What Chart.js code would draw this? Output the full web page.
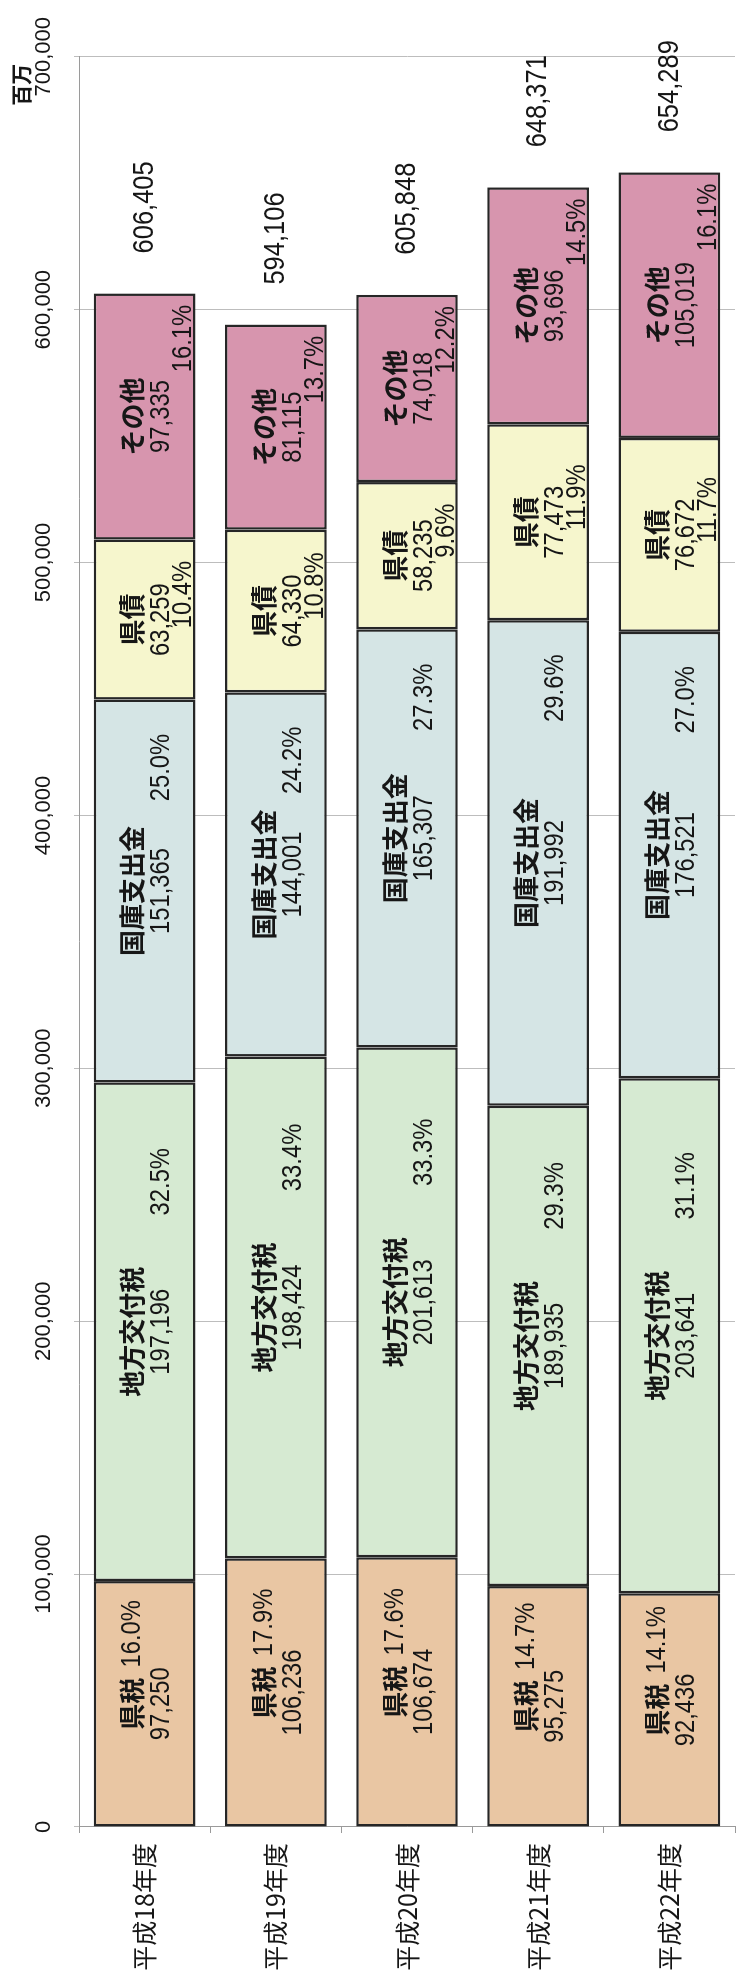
<!DOCTYPE html>
<html lang="ja">
<head>
<meta charset="utf-8">
<title>歳入の推移</title>
<script src="https://cdn.jsdelivr.net/npm/chart.js@4.4.1/dist/chart.umd.min.js"></script>
<style>
  html, body {
    margin: 0;
    padding: 0;
    width: 741px;
    height: 1980px;
    overflow: hidden;
    background: #fff;
  }
  /* the chart is drawn lying on its side, then turned a quarter left */
  #wrap {
    position: absolute;
    left: 0;
    top: 0;
    width: 1980px;
    height: 760px;
    transform-origin: 0 0;
    transform: translateY(1980px) rotate(-90deg);
  }
</style>
</head>
<body>
<div id="wrap"><canvas id="revenue-chart" width="1980" height="760"></canvas></div>

<script>
/* ============================================================================
   DATA (百万円)
============================================================================ */

const YEARS = ["平成18年度", "平成19年度", "平成20年度", "平成21年度", "平成22年度"];
const SERIES = ["県税", "地方交付税", "国庫支出金", "県債", "その他"];

const KENZEI = [97250, 106236, 106674, 95275, 92436];
const CHIHO_KOFUZEI = [197196, 198424, 201613, 189935, 203641];
const KOKKO_SHISHUTSU = [151365, 144001, 165307, 191992, 176521];
const KENSAI = [63259, 64330, 58235, 77473, 76672];
const SONOTA = [97335, 81115, 74018, 93696, 105019];

const PCT_KENZEI = [16.0, 17.9, 17.6, 14.7, 14.1];
const PCT_CHIHO_KOFUZEI = [32.5, 33.4, 33.3, 29.3, 31.1];
const PCT_KOKKO_SHISHUTSU = [25.0, 24.2, 27.3, 29.6, 27.0];
const PCT_KENSAI = [10.4, 10.8, 9.6, 11.9, 11.7];
const PCT_SONOTA = [16.1, 13.7, 12.2, 14.5, 16.1];

const TOTALS = [606405, 594106, 605848, 648371, 654289];

const VALUE_TICKS = [0, 100000, 200000, 300000, 400000, 500000, 600000, 700000];
const UNIT_LABEL = "百万";

/* ===================== STYLE ===================== */

const FILLS = ["#e9c6a3", "#d6ead2", "#d5e5e5", "#f6f6cd", "#d795ae"];
const EDGE = "#262626";
const INK = "#161616";

const NUM_FONT = '"Liberation Sans", Arial, sans-serif';
const JP_FONT = '"Noto Sans CJK JP", "Noto Sans", sans-serif';

const VALUES = [KENZEI, CHIHO_KOFUZEI, KOKKO_SHISHUTSU, KENSAI, SONOTA];
const PCTS = [PCT_KENZEI, PCT_CHIHO_KOFUZEI, PCT_KOKKO_SHISHUTSU, PCT_KENSAI, PCT_SONOTA];

// where the percentage goes in each segment (c = middle, e = end of segment)
const PCT_PLACE = [
  { line: 1, at: (c, e) => c + 70 },   // 県税
  { line: 2, at: (c, e) => c + 150 },  // 地方交付税
  { line: 2, at: (c, e) => e - 68 },   // 国庫支出金
  { line: 3, at: (c, e) => c + 25 },   // 県債
  { line: 3, at: (c, e) => e - 45 },   // その他
];
const LINE_DY = { 1: -12, 2: 17, 3: 39 };

const fmt = (v) => v.toLocaleString("en-US");

/* ===================== TEXT HELPER ===================== */

function drawText(ctx, text, x, y, font, align, squeeze) {
  ctx.save();
  ctx.font = font;
  ctx.fillStyle = INK;
  ctx.textAlign = align;
  ctx.textBaseline = "middle";
  ctx.translate(x, y);
  ctx.scale(squeeze || 1, 1);
  ctx.fillText(text, 0, 0);
  ctx.restore();
}

/* ===================== SEGMENT LABELS ===================== */

const segmentLabels = {
  id: "segmentLabels",
  afterDatasetsDraw(chart) {
    const ctx = chart.ctx;

    chart.data.datasets.forEach((ds, i) => {
      const meta = chart.getDatasetMeta(i);
      meta.data.forEach((bar, j) => {
        const start = bar.base;
        const end = bar.x;
        const c = (start + end) / 2;
        const mid = bar.y;

        drawText(ctx, SERIES[i], c, mid + LINE_DY[1], "bold 26px " + JP_FONT, "center");
        drawText(ctx, fmt(VALUES[i][j]), c, mid + LINE_DY[2], "28px " + NUM_FONT, "center", 0.85);

        const place = PCT_PLACE[i];
        drawText(
          ctx,
          PCTS[i][j].toFixed(1) + "%",
          place.at(c, end),
          mid + LINE_DY[place.line],
          "28px " + NUM_FONT,
          "center",
          0.85
        );
      });
    });

    // totals past the end of each bar
    const last = chart.getDatasetMeta(chart.data.datasets.length - 1);
    last.data.forEach((bar, j) => {
      drawText(ctx, fmt(TOTALS[j]), bar.x + 40, bar.y, "30px " + NUM_FONT, "left", 0.85);
    });

    // unit
    const xs = chart.scales.x;
    drawText(ctx, UNIT_LABEL, xs.right - 28, 21, "bold 21px " + JP_FONT, "center");
  },
};

/* ============================================================================
   CHART
============================================================================ */

const revenueChart = new Chart(document.getElementById("revenue-chart"), {
  type: "bar",
  data: {
    labels: YEARS,
    datasets: SERIES.map((name, i) => ({
      label: name,
      data: VALUES[i],
      backgroundColor: FILLS[i],
      borderColor: EDGE,
      borderWidth: 2.5,
      borderSkipped: false,
      barPercentage: 0.775,
      categoryPercentage: 1,
    })),
  },
  options: {
    indexAxis: "y",
    responsive: false,
    animation: false,
    layout: { padding: { left: 0, right: 44, top: 0, bottom: 9 } },
    plugins: {
      legend: { display: false },
      tooltip: { enabled: false },
    },
    scales: {
      x: {
        position: "top",
        stacked: true,
        min: 0,
        max: 700000,
        afterBuildTicks: (s) => {
          s.ticks = VALUE_TICKS.map((v) => ({ value: v }));
        },
        afterFit: (s) => {
          s.height = 79;
        },
        grid: { color: "#bdbdbd", lineWidth: 1, tickLength: 5 },
        border: { color: "#9a9a9a", width: 1 },
        ticks: {
          padding: 17,
          color: INK,
          font: { family: NUM_FONT, size: 22 },
          callback: (v) => fmt(v),
        },
      },
      y: {
        position: "left",
        stacked: true,
        afterFit: (s) => {
          s.width = 153;
        },
        grid: { drawOnChartArea: false, tickLength: 6, color: "#9a9a9a" },
        border: { color: "#9a9a9a", width: 1 },
        ticks: {
          padding: 10,
          color: INK,
          font: { family: JP_FONT, size: 25 },
        },
      },
    },
  },
  plugins: [segmentLabels],
});
</script>
</body>
</html>
